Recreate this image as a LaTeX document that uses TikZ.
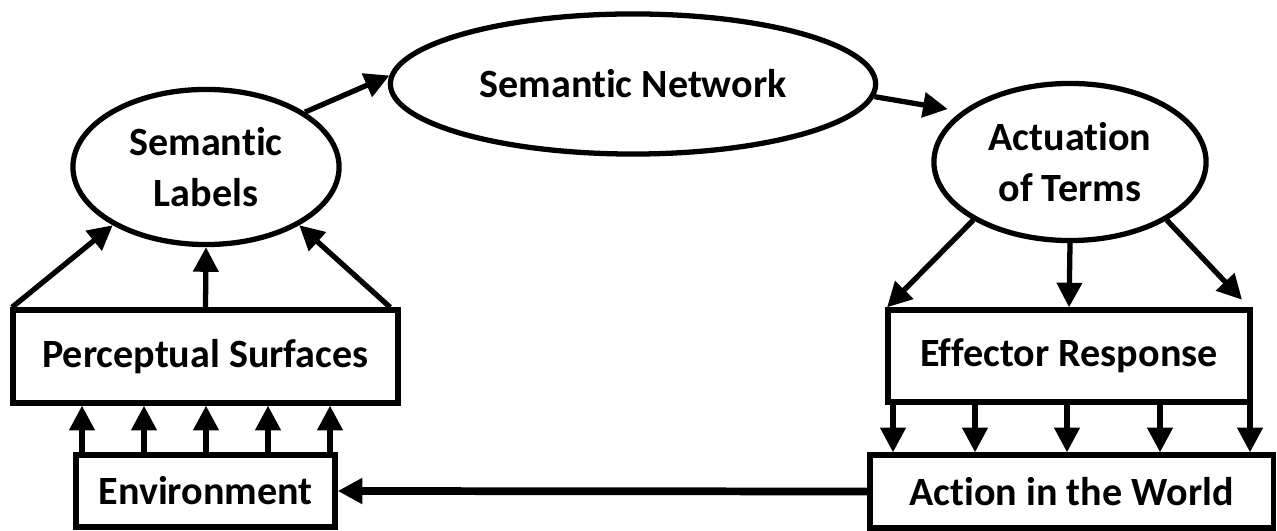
\documentclass[tikz,border=0pt]{standalone}
\usepackage{fontspec}
\setmainfont{Carlito}[RawFeature={-liga}]
\usetikzlibrary{shapes.geometric, arrows.meta}

\begin{document}
\begin{tikzpicture}[x=0.01cm, y=-0.01cm, line width=1.5pt,
  box/.style={draw, rectangle, inner sep=0pt},
  oval/.style={draw, ellipse, inner sep=0pt, align=center},
  arr/.style={-{Triangle[length=7pt,width=7pt]}},
  font=\bfseries\fontsize{11.4}{14.5}\selectfont]
\useasboundingbox (0,0) rectangle (1277,531);
% ovals
\node[oval, minimum width=2.66cm, minimum height=1.55cm] (labels) at (206,167) {Semantic\\Labels};
\node[oval, minimum width=4.85cm, minimum height=1.40cm] (network) at (633,84) {Semantic Network};
\node[oval, minimum width=2.72cm, minimum height=1.57cm] (actu) at (1070,162) {Actuation\\of Terms};
% boxes
\node[box, minimum width=3.85cm, minimum height=0.93cm] (percept) at (205.5,356.5) {Perceptual Surfaces};
\node[box, minimum width=2.59cm, minimum height=0.72cm] (env) at (205.5,491) {Environment};
\node[box, minimum width=3.62cm, minimum height=0.92cm] (effector) at (1069,356) {Effector Response};
\node[box, minimum width=4.03cm, minimum height=0.73cm] (world) at (1071.5,491.5) {Action in the World};
% arrows
\draw[arr] (labels.29) -- (network.178);
\draw[arr, shorten >=4pt] (network.357) -- (actu.155);
\draw[arr] ([xshift=0.5pt]percept.north west) -- (labels.212);
\draw[arr] (percept.north) -- (labels.south);
\draw[arr] ([xshift=-3pt]percept.north east) -- (labels.328);
\draw[arr] (actu.211) -- ([xshift=0.5pt]effector.north west);
\draw[arr] (actu.south) -- (effector.north);
\draw[arr, shorten >=3pt] (actu.329) -- ([xshift=-1pt]effector.north east);
\foreach \x in {82,144,206,268,330}
  \draw[arr] (\x,0 |- env.north) -- (\x,0 |- percept.south);
\foreach \x in {893,975,1067,1160,1250}
  \draw[arr] (\x,0 |- effector.south) -- (\x,0 |- world.north);
\draw[arr, line width=2.2pt] (world.west) -- (env.east);
\end{tikzpicture}
\end{document}
